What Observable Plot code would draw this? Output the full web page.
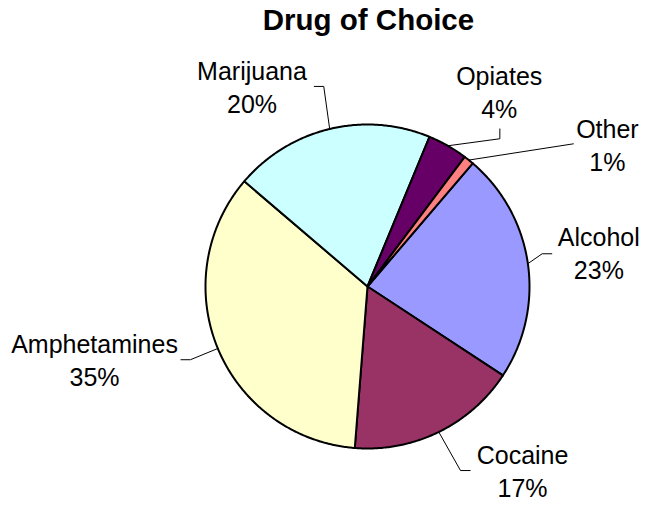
<!DOCTYPE html>
<html><head><meta charset="utf-8">
<script src="https://cdn.jsdelivr.net/npm/d3@7"></script>
<script src="https://cdn.jsdelivr.net/npm/@observablehq/plot@0.6"></script>
<style>body{margin:0;background:#fff}</style>
</head><body><div id="chart"></div>
<script>
// ---- data ----
const title = "Drug of Choice";
const categories = ["Alcohol", "Cocaine", "Amphetamines", "Marijuana", "Opiates", "Other"];
const percents = [23, 17, 35, 20, 4, 1];
const colors = ["#9999FF", "#993366", "#FFFFCC", "#CCFFFF", "#660066", "#FF8080"];

// ---- layout (pie-radius units, origin at pie centre, y up) ----
const startDeg = 40.5;
const labelLayout = {
  Alcohol:      {label: [1.428, 0.211],  hook: [[1.078, 0.202], [1.140, 0.202]]},
  Cocaine:      {label: [0.957, -1.130], hook: [[0.574, -1.136], [0.636, -1.136]]},
  Amphetamines: {label: [-1.685, -0.448], hook: [[-1.093, -0.452], [-1.154, -0.452]]},
  Marijuana:    {label: [-0.713, 1.238], hook: [[-0.270, 1.235], [-0.331, 1.235]]},
  Opiates:      {label: [0.813, 1.206],  hook: [[0.817, 0.912], [0.817, 0.975]]},
  Other:        {label: [1.481, 0.880],  hook: [[1.273, 0.881]]}
};

const W = 648, H = 506, cx = 367, cy = 286, R = 162;

const rows = categories.map((name, i) => ({name, value: percents[i]}));
const s0 = startDeg * Math.PI / 180;
const arcs = d3.pie().sort(null).value(d => d.value).startAngle(s0).endAngle(s0 + 2 * Math.PI)(rows);

const slicePts = [];
const leaderPts = [];
const labels = [];
for (const a of arcs) {
  const name = a.data.name;
  slicePts.push({name, x: 0, y: 0});
  const n = Math.max(2, Math.ceil((a.endAngle - a.startAngle) / (Math.PI / 360)) + 1);
  for (let k = 0; k < n; k++) {
    const t = a.startAngle + (a.endAngle - a.startAngle) * k / (n - 1);
    slicePts.push({name, x: Math.sin(t), y: Math.cos(t)});
  }
  const mid = (a.startAngle + a.endAngle) / 2;
  const L = labelLayout[name];
  leaderPts.push({name, x: Math.sin(mid), y: Math.cos(mid)});
  for (const p of L.hook) leaderPts.push({name, x: p[0], y: p[1]});
  labels.push({name, x: L.label[0], y: L.label[1], text: `${name}\n${a.data.value}%`});
}

const chart = Plot.plot({
  width: W, height: H,
  marginTop: 0, marginRight: 0, marginBottom: 0, marginLeft: 0,
  x: {domain: [-cx / R, (W - cx) / R], axis: null},
  y: {domain: [-(H - cy) / R, cy / R], axis: null},
  color: {domain: categories, range: colors},
  style: {fontFamily: "Arial, 'Liberation Sans', sans-serif", background: "#fff", color: "#000"},
  marks: [
    Plot.line(slicePts, {x: "x", y: "y", z: "name", fill: "name", stroke: "#000", strokeWidth: 2, curve: "linear-closed", strokeLinejoin: "round"}),
    Plot.line(leaderPts, {x: "x", y: "y", z: "name", stroke: "#000", strokeWidth: 1, curve: "linear", strokeLinecap: "butt"}),
    Plot.text(labels, {x: "x", y: "y", text: "text", fontSize: 25, lineHeight: 1.32, fill: "#000", textAnchor: "middle"}),
    Plot.text([title], {x: () => 0.006, frameAnchor: "top", lineAnchor: "top", dy: 8.5, fontSize: 29.5, fontWeight: "bold", fill: "#000"})
  ]
});
document.getElementById("chart").appendChild(chart);
</script>
</body></html>
